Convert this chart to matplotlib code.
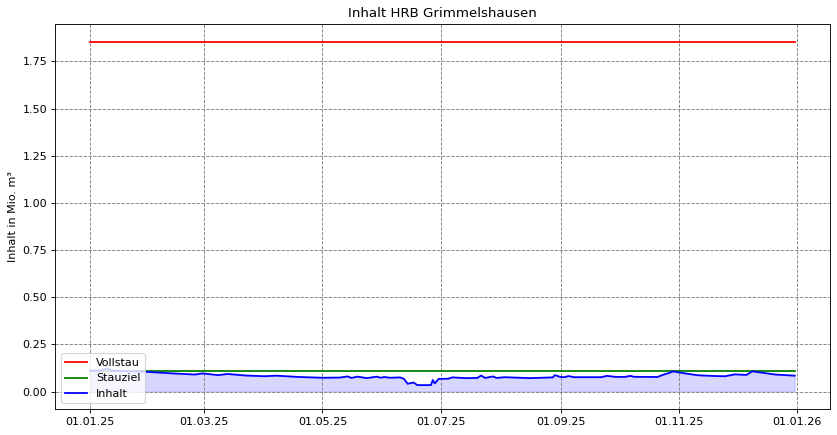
import numpy as np
import pandas as pd
import matplotlib
matplotlib.use("Agg")
import matplotlib.pyplot as plt
import matplotlib.dates as mdates

datum = ["2025-01-01", "2025-01-06", "2025-01-10", "2025-01-12", "2025-01-19",
         "2025-01-29", "2025-02-11", "2025-02-24", "2025-02-28", "2025-03-08",
         "2025-03-13", "2025-03-22", "2025-04-01", "2025-04-07", "2025-04-19",
         "2025-05-01", "2025-05-10", "2025-05-14", "2025-05-16", "2025-05-19",
         "2025-05-24", "2025-05-29", "2025-05-31", "2025-06-02", "2025-06-05",
         "2025-06-10", "2025-06-12", "2025-06-14", "2025-06-17", "2025-06-19",
         "2025-06-26", "2025-06-27", "2025-06-28", "2025-06-30", "2025-07-05",
         "2025-07-07", "2025-07-14", "2025-07-20", "2025-07-22", "2025-07-24",
         "2025-07-28", "2025-07-30", "2025-08-03", "2025-08-16", "2025-08-28",
         "2025-08-29", "2025-09-01", "2025-09-03", "2025-09-05", "2025-09-08",
         "2025-09-22", "2025-09-25", "2025-09-29", "2025-10-04", "2025-10-07",
         "2025-10-09", "2025-10-21", "2025-10-24", "2025-10-27", "2025-10-29",
         "2025-11-03", "2025-11-11", "2025-11-20", "2025-11-25", "2025-11-30",
         "2025-12-06", "2025-12-09", "2025-12-14", "2025-12-21", "2025-12-31"]
inhalt = [0.110, 0.112, 0.122, 0.112, 0.108,
          0.105, 0.097, 0.090, 0.096, 0.087,
          0.093, 0.085, 0.081, 0.084, 0.077,
          0.073, 0.074, 0.080, 0.072, 0.079,
          0.071, 0.079, 0.073, 0.077, 0.073,
          0.075, 0.068, 0.041, 0.048, 0.034,
          0.034, 0.061, 0.043, 0.067, 0.068,
          0.075, 0.071, 0.072, 0.085, 0.072,
          0.080, 0.072, 0.076, 0.071, 0.075,
          0.087, 0.077, 0.076, 0.082, 0.076,
          0.076, 0.083, 0.078, 0.077, 0.083,
          0.078, 0.077, 0.089, 0.098, 0.107,
          0.098, 0.086, 0.082, 0.081, 0.091,
          0.088, 0.107, 0.100, 0.090, 0.084]
vollstau = 1.856
stauziel = 0.111

x = pd.to_datetime(datum)

fig, ax = plt.subplots(figsize=(837 / 80, 435 / 80), dpi=80)

ax.plot(x, [vollstau] * len(x), color="red", lw=1.6, label="Vollstau")
ax.plot(x, [stauziel] * len(x), color="green", lw=1.6, label="Stauziel")
ax.plot(x, inhalt, color="blue", lw=1.6, label="Inhalt")
ax.fill_between(x, inhalt, 0, color="blue", alpha=0.16)

ax.set_title("Inhalt HRB Grimmelshausen")
ax.set_ylabel("Inhalt in Mio. m³")
ax.grid(True, linestyle="--", color="gray")
ax.xaxis.set_major_locator(mdates.MonthLocator(bymonth=[1, 3, 5, 7, 9, 11]))
ax.xaxis.set_major_formatter(mdates.DateFormatter("%d.%m.%y"))
ax.legend(loc="lower left")

fig.subplots_adjust(left=55 / 837, right=830 / 837, top=1 - 24 / 435, bottom=1 - 409 / 435)
plt.savefig("out.png")
